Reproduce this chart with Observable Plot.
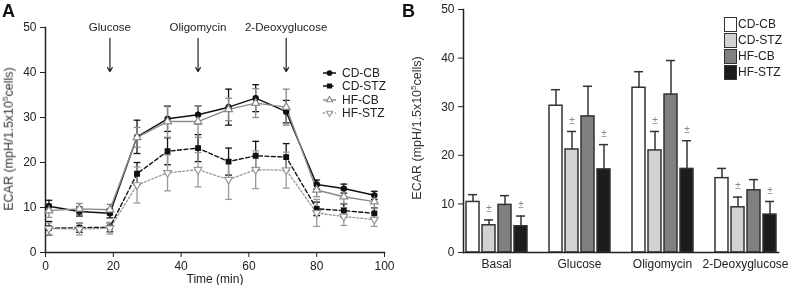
<!DOCTYPE html>
<html><head><meta charset="utf-8">
<script src="https://cdn.jsdelivr.net/npm/d3@7"></script>
<script src="https://cdn.jsdelivr.net/npm/@observablehq/plot@0.6"></script>
<style>
body{margin:0;background:#fff;font-family:"Liberation Sans",Arial,sans-serif;}
#wrap{position:relative;width:788px;height:285px;overflow:hidden;}
#a{position:absolute;left:0;top:0;will-change:transform;}
#b{position:absolute;left:400px;top:0;will-change:transform;}
.ptitle{position:absolute;font-weight:bold;font-size:18px;color:#111;line-height:1;}
.leg{position:absolute;font-size:12px;color:#222;}
.leg div{display:flex;align-items:center;white-space:nowrap;}
.ylab{position:absolute;font-size:12.5px;font-weight:normal;color:#333;white-space:nowrap;transform:translate(-50%,-50%) rotate(-90deg);line-height:1;}
.ylab sup{font-size:8px;vertical-align:5px;line-height:0;}
</style></head>
<body>
<div id="wrap">
  <div id="a"></div>
  <div id="b"></div>
  <div class="ptitle" style="left:2px;top:2px;">A</div>
  <div class="ptitle" style="left:402px;top:2px;">B</div>
  <div class="ylab" id="ylabA" style="left:9px;top:139px;"></div>
  <div class="ylab" id="ylabB" style="left:417px;top:128px;"></div>
  <div class="leg" id="legA" style="left:322px;top:66px;"></div>
  <div class="leg" id="legB" style="left:724px;top:16px;"></div>
</div>
<script>
// ---------- Panel A data ----------
const times = [1, 10, 19, 27, 36, 45, 54, 62, 71, 80, 88, 97];
const seriesNames = ["CD-CB", "CD-STZ", "HF-CB", "HF-STZ"];
const cdcbMean  = [10.3, 9.1, 8.7, 25.7, 29.7, 30.6, 32.3, 34.3, 31.3, 15.1, 14.2, 12.7];
const cdcbErr   = [1.3, 1.0, 1.0, 3.7, 2.8, 2.0, 4.0, 3.0, 2.5, 1.0, 1.0, 0.9];
const cdstzMean = [5.4, 5.5, 5.6, 17.5, 22.5, 23.2, 20.2, 21.5, 21.2, 9.7, 9.3, 8.7];
const cdstzErr  = [1.5, 1.0, 1.0, 2.5, 3.0, 3.0, 3.0, 3.2, 3.0, 1.5, 1.5, 1.2];
const hfcbMean  = [9.3, 9.7, 9.5, 25.6, 29.1, 29.1, 31.8, 33.2, 32.3, 13.9, 12.4, 11.3];
const hfcbErr   = [1.5, 1.2, 1.2, 2.2, 3.5, 3.5, 2.5, 3.2, 4.0, 1.5, 1.5, 1.5];
const hfstzMean = [5.3, 5.2, 5.4, 15.0, 17.7, 18.4, 16.2, 18.4, 18.3, 8.8, 8.0, 7.3];
const hfstzErr  = [1.3, 1.3, 1.3, 4.0, 4.0, 3.8, 4.4, 4.2, 4.0, 3.0, 2.0, 1.5];
const injections = ["Glucose", "Oligomycin", "2-Deoxyglucose"];
const injectionTimes = [19, 45, 71];

// ---------- Panel B data ----------
const phases = ["Basal", "Glucose", "Oligomycin", "2-Deoxyglucose"];
const cdcbBar  = [10.4, 30.2, 33.9, 15.3];
const cdcbBarErr  = [1.5, 3.3, 3.3, 2.0];
const cdstzBar = [5.6, 21.2, 21.0, 9.3];
const cdstzBarErr = [1.1, 3.7, 3.9, 2.1];
const hfcbBar  = [9.8, 28.0, 32.5, 12.8];
const hfcbBarErr  = [1.9, 6.2, 7.0, 2.2];
const hfstzBar = [5.4, 17.1, 17.2, 7.8];
const hfstzBarErr = [2.1, 5.1, 5.8, 2.7];

const yTicks = [0, 10, 20, 30, 40, 50];
const xTicks = [0, 20, 40, 60, 80, 100];
const yLabelHTML = "ECAR (mpH/1.5x10<sup>5</sup>cells)";
document.getElementById("ylabA").innerHTML = yLabelHTML;
document.getElementById("ylabB").innerHTML = yLabelHTML;

// ---------- build tables ----------
const meansA = [cdcbMean, cdstzMean, hfcbMean, hfstzMean];
const errsA = [cdcbErr, cdstzErr, hfcbErr, hfstzErr];
const rowsA = seriesNames.map((s, i) => times.map((t, j) => ({series: s, t, value: meansA[i][j], err: errsA[i][j]})));

const meansB = [cdcbBar, cdstzBar, hfcbBar, hfstzBar];
const errsB = [cdcbBarErr, cdstzBarErr, hfcbBarErr, hfstzBarErr];
const rowsB = seriesNames.flatMap((s, i) => phases.map((p, j) => ({series: s, phase: p, value: meansB[i][j], err: errsB[i][j]})));

const injRows = injections.map((name, i) => ({name, t: injectionTimes[i]}));

// inverted triangle symbol
const sqrt3 = Math.sqrt(3);
const triDown = {draw(context, size) {
  const y = -Math.sqrt(size / (sqrt3 * 3));
  context.moveTo(0, -y * 2);
  context.lineTo(-sqrt3 * y, y);
  context.lineTo(sqrt3 * y, y);
  context.closePath();
}};

const styleA = {
  "CD-CB":  {stroke: "#111", dash: null, width: 1.5, symbol: d3.symbolCircle, fill: "#111", r: 2.6},
  "CD-STZ": {stroke: "#111", dash: "4,2.5", width: 1.4, symbol: d3.symbolSquare, fill: "#111", r: 2.6},
  "HF-CB":  {stroke: "#8a8a8a", dash: null, width: 1.4, symbol: d3.symbolTriangle, fill: "#fff", r: 2.9},
  "HF-STZ": {stroke: "#999", dash: "2,2", width: 1.3, symbol: triDown, fill: "#fff", r: 2.9}
};

const fontFam = '"Liberation Sans", Arial, sans-serif';

const marksA = [];
seriesNames.forEach((s, i) => {
  const st = styleA[s];
  const data = rowsA[i];
  marksA.push(Plot.ruleX(data, {x: "t", y1: d => d.value - d.err, y2: d => d.value + d.err, stroke: st.stroke, strokeWidth: 1.3}));
  marksA.push(Plot.link(data, {x1: d => d.t - 1, x2: d => d.t + 1, y1: d => d.value + d.err, y2: d => d.value + d.err, stroke: st.stroke, strokeWidth: 1.3}));
  marksA.push(Plot.link(data, {x1: d => d.t - 1, x2: d => d.t + 1, y1: d => d.value - d.err, y2: d => d.value - d.err, stroke: st.stroke, strokeWidth: 1.3}));
});
seriesNames.forEach((s, i) => {
  const st = styleA[s];
  marksA.push(Plot.line(rowsA[i], {x: "t", y: "value", stroke: st.stroke, strokeWidth: st.width, strokeDasharray: st.dash}));
});
seriesNames.forEach((s, i) => {
  const st = styleA[s];
  marksA.push(Plot.dot(rowsA[i], {x: "t", y: "value", symbol: st.symbol, r: st.r, fill: st.fill, stroke: st.stroke, strokeWidth: 1.2}));
});

const arrowTop = 47.6, arrowBottom = 40.2, labelLevel = 50;

const plotA = Plot.plot({
  width: 400, height: 285,
  marginLeft: 45, marginRight: 16, marginTop: 27, marginBottom: 33,
  style: {fontFamily: fontFam, fontSize: "12px", color: "#222", background: "transparent"},
  x: {domain: [0, 100]},
  y: {domain: [0, 50]},
  marks: [
    Plot.axisX({ticks: xTicks, tickSize: 5, label: "Time (min)", labelAnchor: "center", labelOffset: 30, labelArrow: "none"}),
    Plot.axisY({ticks: yTicks, tickSize: 5, label: null}),
    Plot.frame({anchor: "left", stroke: "#222", strokeWidth: 1.5}),
    Plot.frame({anchor: "bottom", stroke: "#222", strokeWidth: 1.5}),
    ...marksA,
    Plot.arrow(injRows, {x1: "t", x2: "t", y1: () => arrowTop, y2: () => arrowBottom, stroke: "#222", strokeWidth: 1.2, headLength: 6}),
    Plot.text(injRows, {x: "t", y: () => labelLevel, text: "name", fontSize: 11.5, fill: "#222"})
  ]
});
document.getElementById("a").append(plotA);

// ---------- Panel B ----------
const barFill = ["#ffffff", "#d2d2d2", "#808080", "#1c1c1c"];
const plotB = Plot.plot({
  width: 388, height: 285,
  marginLeft: 53, marginRight: 0, marginTop: 9, marginBottom: 33,
  style: {fontFamily: fontFam, fontSize: "12px", color: "#222", background: "transparent", overflow: "visible"},
  fx: {domain: phases, paddingInner: 0.2, paddingOuter: 0.1, label: null},
  x: {domain: seriesNames, paddingInner: 0.2, paddingOuter: 0.1, axis: null},
  y: {domain: [0, 50]},
  color: {domain: seriesNames, range: barFill},
  marks: [
    Plot.axisFx({anchor: "bottom", tickSize: 0, tickPadding: 7, label: null}),
    Plot.axisY({ticks: yTicks, tickSize: 5, label: null}),
    Plot.ruleX(rowsB, {fx: "phase", x: "series", y1: "value", y2: d => d.value + d.err, stroke: "#333", strokeWidth: 1.5}),
    Plot.tickY(rowsB, {fx: "phase", x: "series", y: d => d.value + d.err, stroke: "#333", strokeWidth: 1.5, insetLeft: 2, insetRight: 2}),
    Plot.barY(rowsB, {fx: "phase", x: "series", y: "value", fill: "series", stroke: "#333", strokeWidth: 1.5}),
    Plot.text(rowsB.filter(d => d.series.endsWith("STZ")), {fx: "phase", x: "series", y: d => d.value + d.err, text: () => "±", dy: -11, fontSize: 10, fill: "#888"}),
    Plot.frame({anchor: "left", facet: "super", stroke: "#222", strokeWidth: 1.5}),
    Plot.frame({anchor: "bottom", facet: "super", stroke: "#222", strokeWidth: 1.5})
  ]
});
document.getElementById("b").append(plotB);

// ---------- Legends ----------
const legA = d3.select("#legA");
seriesNames.forEach(s => {
  const st = styleA[s];
  const row = legA.append("div").style("height", "13.5px");
  const svg = row.append("svg").attr("width", 16).attr("height", 12).style("margin-right", "4px");
  svg.append("line").attr("x1", 1).attr("x2", 14).attr("y1", 6).attr("y2", 6)
    .attr("stroke", st.stroke).attr("stroke-width", st.width).attr("stroke-dasharray", st.dash);
  svg.append("path").attr("transform", "translate(7.5,6)")
    .attr("d", d3.symbol(st.symbol, Math.PI * 2.3 * 2.3)())
    .attr("fill", st.fill).attr("stroke", st.stroke).attr("stroke-width", 1.1);
  row.append("span").text(s);
});
const legB = d3.select("#legB");
seriesNames.forEach((s, i) => {
  const row = legB.append("div").style("height", "16px");
  row.append("span").style("display", "inline-block").style("width", "11px").style("height", "13px")
    .style("background", barFill[i]).style("border", "1.5px solid #333").style("margin-right", "1px");
  row.append("span").text(s);
});
</script>
</body></html>
